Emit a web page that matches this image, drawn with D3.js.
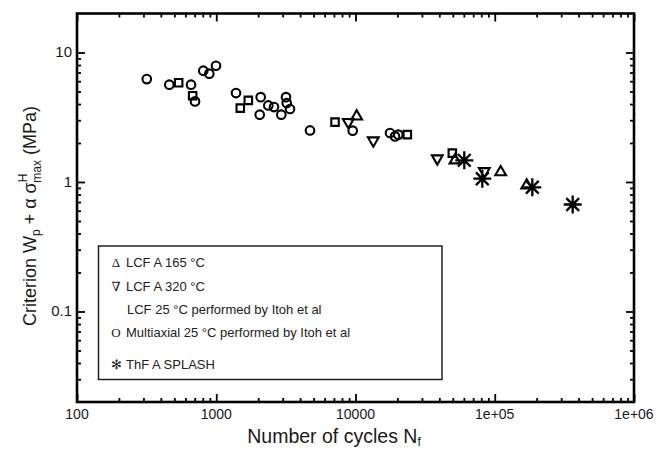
<!DOCTYPE html>
<html>
<head>
<meta charset="utf-8">
<script src="https://cdn.jsdelivr.net/npm/d3@7"></script>
<style>
  html, body { margin: 0; padding: 0; background: #fff; }
  svg { display: block; font-family: "Liberation Sans", Arial, Helvetica, sans-serif; }
</style>
</head>
<body>
<svg id="chart" width="659" height="449"></svg>
<script>
// ---- data (N_f cycles, criterion MPa) ----
const multiaxialN = [317, 460, 659, 704, 807, 891, 996, 1386, 2085, 2051, 2365, 2598, 2932, 3169, 3206, 3385, 4712, 9548, 17690, 19210, 20290];
const multiaxialV = [6.23, 5.64, 5.64, 4.19, 7.23, 6.86, 7.90, 4.86, 4.52, 3.31, 3.90, 3.79, 3.31, 4.52, 4.07, 3.66, 2.50, 2.49, 2.39, 2.25, 2.32];
const lcf25N = [537, 677, 1488, 1699, 7128, 23550, 49570];
const lcf25V = [5.84, 4.64, 3.72, 4.27, 2.90, 2.32, 1.67];
const lcf165N = [10200, 51820, 110300, 169600];
const lcf165V = [3.21, 1.47, 1.19, 0.94];
const lcf320N = [8878, 13427, 38670, 84130];
const lcf320V = [2.90, 2.09, 1.52, 1.21];
const thfN = [60430, 81400, 186100, 362900];
const thfV = [1.47, 1.06, 0.91, 0.67];

const xMajorTicks = [100, 1000, 10000, 100000, 1000000];
const xTickLabels = ["100", "1000", "10000", "1e+05", "1e+06"];
const yMajorTicks = [0.1, 1, 10];
const yTickLabels = ["0.1", "1", "10"];
const legendLabels = ["LCF A 165 \u00B0C", "LCF A 320 \u00B0C", "LCF 25 \u00B0C performed by Itoh et al", "Multiaxial 25 \u00B0C performed by Itoh et al", "ThF A SPLASH"];
const legendGlyphs = ["\u0394", "\u2207", "", "O", "\u273B"];

// ---- layout ----
const pLeft = 77, pRight = 634, pTop = 13.5, pBottom = 402;
const svg = d3.select("#chart");
const x = d3.scaleLog().domain([100, 1e6]).range([pLeft, pRight]);
const y = d3.scaleLog().domain([0.02, 20]).range([pBottom, pTop]);

// minor tick positions
function minors(lo, hi) {
  const out = [];
  for (let p = Math.floor(Math.log10(lo)); p < Math.ceil(Math.log10(hi)); p++) {
    for (let k = 2; k <= 9; k++) {
      const v = k * Math.pow(10, p);
      if (v > lo && v < hi) out.push(v);
    }
  }
  return out;
}
const xMinor = minors(100, 1e6);
const yMinor = minors(0.02, 20);

const axes = svg.append("g");
const majorLen = 8, minorLen = 4;
function styleAxis(g) {
  g.select(".domain").remove();
  g.selectAll("line").attr("stroke", "#000").attr("stroke-width", 1.8);
}
// bottom & top
axes.append("g").attr("transform", `translate(0,${pBottom})`).call(d3.axisBottom(x).tickValues(xMajorTicks).tickSize(-majorLen).tickFormat("")).call(styleAxis);
axes.append("g").attr("transform", `translate(0,${pBottom})`).call(d3.axisBottom(x).tickValues(xMinor).tickSize(-minorLen).tickFormat("")).call(styleAxis);
axes.append("g").attr("transform", `translate(0,${pTop})`).call(d3.axisTop(x).tickValues(xMajorTicks).tickSize(-majorLen).tickFormat("")).call(styleAxis);
axes.append("g").attr("transform", `translate(0,${pTop})`).call(d3.axisTop(x).tickValues(xMinor).tickSize(-minorLen).tickFormat("")).call(styleAxis);
// left & right
axes.append("g").attr("transform", `translate(${pLeft},0)`).call(d3.axisLeft(y).tickValues(yMajorTicks).tickSize(-majorLen).tickFormat("")).call(styleAxis);
axes.append("g").attr("transform", `translate(${pLeft},0)`).call(d3.axisLeft(y).tickValues(yMinor).tickSize(-minorLen).tickFormat("")).call(styleAxis);
axes.append("g").attr("transform", `translate(${pRight},0)`).call(d3.axisRight(y).tickValues(yMajorTicks).tickSize(-majorLen).tickFormat("")).call(styleAxis);
axes.append("g").attr("transform", `translate(${pRight},0)`).call(d3.axisRight(y).tickValues(yMinor).tickSize(-minorLen).tickFormat("")).call(styleAxis);

// frame
svg.append("rect").attr("x", pLeft).attr("y", pTop).attr("width", pRight - pLeft).attr("height", pBottom - pTop)
  .attr("fill", "none").attr("stroke", "#000").attr("stroke-width", 2.6);

// tick labels
svg.append("g").selectAll("text").data(xMajorTicks).join("text")
  .attr("x", d => x(d)).attr("y", pBottom + 17)
  .attr("text-anchor", "middle").attr("font-size", 14).attr("fill", "#1a1a1a")
  .text((d, i) => xTickLabels[i]);
svg.append("g").selectAll("text").data(yMajorTicks).join("text")
  .attr("x", pLeft - 5).attr("y", d => y(d) + 5)
  .attr("text-anchor", "end").attr("font-size", 15).attr("fill", "#1a1a1a")
  .text((d, i) => yTickLabels[i]);

// axis titles
const xt = svg.append("text").attr("x", 334).attr("y", 443).attr("text-anchor", "middle")
  .attr("font-size", 19.5).attr("fill", "#1a1a1a");
xt.append("tspan").text("Number of cycles N");
xt.append("tspan").attr("font-size", 12).attr("dy", 3).text("f");

const yt = svg.append("text").attr("transform", "translate(36,216) rotate(-90)").attr("text-anchor", "middle")
  .attr("font-size", 18).attr("fill", "#1a1a1a");
yt.append("tspan").text("Criterion W");
yt.append("tspan").attr("font-size", 12).attr("dy", 4).text("p");
yt.append("tspan").attr("dy", -4).text(" + \u03B1 \u03C3");
yt.append("tspan").attr("font-size", 12).attr("dy", -9).text("H");
yt.append("tspan").attr("font-size", 12).attr("dy", 14).attr("dx", -9).text("max");
yt.append("tspan").attr("dy", -5).text(" (MPa)");

// ---- markers ----
const plot = svg.append("g");
const sw = 2.1;
function pairs(ns, vs) { return ns.map((n, i) => ({ n: n, v: vs[i] })); }

plot.append("g").selectAll("circle").data(pairs(multiaxialN, multiaxialV)).join("circle")
  .attr("cx", d => x(d.n)).attr("cy", d => y(d.v)).attr("r", 4.3)
  .attr("fill", "none").attr("stroke", "#000").attr("stroke-width", sw);

plot.append("g").selectAll("path").data(pairs(lcf25N, lcf25V)).join("path")
  .attr("transform", d => `translate(${x(d.n)},${y(d.v)})`)
  .attr("d", d3.symbol(d3.symbolSquare, 56)())
  .attr("fill", "none").attr("stroke", "#000").attr("stroke-width", sw);

plot.append("g").selectAll("path").data(pairs(lcf165N, lcf165V)).join("path")
  .attr("transform", d => `translate(${x(d.n)},${y(d.v)})`)
  .attr("d", d3.symbol(d3.symbolTriangle, 50)())
  .attr("fill", "none").attr("stroke", "#000").attr("stroke-width", sw);

plot.append("g").selectAll("path").data(pairs(lcf320N, lcf320V)).join("path")
  .attr("transform", d => `translate(${x(d.n)},${y(d.v)}) rotate(180)`)
  .attr("d", d3.symbol(d3.symbolTriangle, 50)())
  .attr("fill", "none").attr("stroke", "#000").attr("stroke-width", sw);

function asterisk(r) {
  let p = "";
  for (let k = 0; k < 4; k++) {
    const a = k * Math.PI / 4;
    const dx = r * Math.cos(a), dy = r * Math.sin(a);
    p += `M${-dx},${-dy}L${dx},${dy}`;
  }
  return p;
}
plot.append("g").selectAll("path").data(pairs(thfN, thfV)).join("path")
  .attr("transform", d => `translate(${x(d.n)},${y(d.v)})`)
  .attr("d", asterisk(9))
  .attr("fill", "none").attr("stroke", "#000").attr("stroke-width", 2.3);

// ---- legend ----
const lg = svg.append("g");
lg.append("rect").attr("x", 98.5).attr("y", 246).attr("width", 343.5).attr("height", 133.5)
  .attr("fill", "#fff").attr("stroke", "#222").attr("stroke-width", 1.5);
const legendY = [267, 291, 314, 337, 369];
lg.selectAll("text.glyph").data(legendGlyphs).join("text").attr("class", "glyph")
  .attr("x", 116).attr("y", (d, i) => legendY[i])
  .attr("font-family", "'Liberation Serif', 'DejaVu Serif', serif")
  .attr("font-size", 13).attr("fill", "#222").attr("text-anchor", "middle")
  .text(d => d);
lg.selectAll("text.lab").data(legendLabels).join("text").attr("class", "lab")
  .attr("x", (d, i) => i === 2 ? 127 : 126).attr("y", (d, i) => legendY[i])
  .attr("font-size", 13).attr("fill", "#222")
  .text(d => d);
</script>
</body>
</html>
